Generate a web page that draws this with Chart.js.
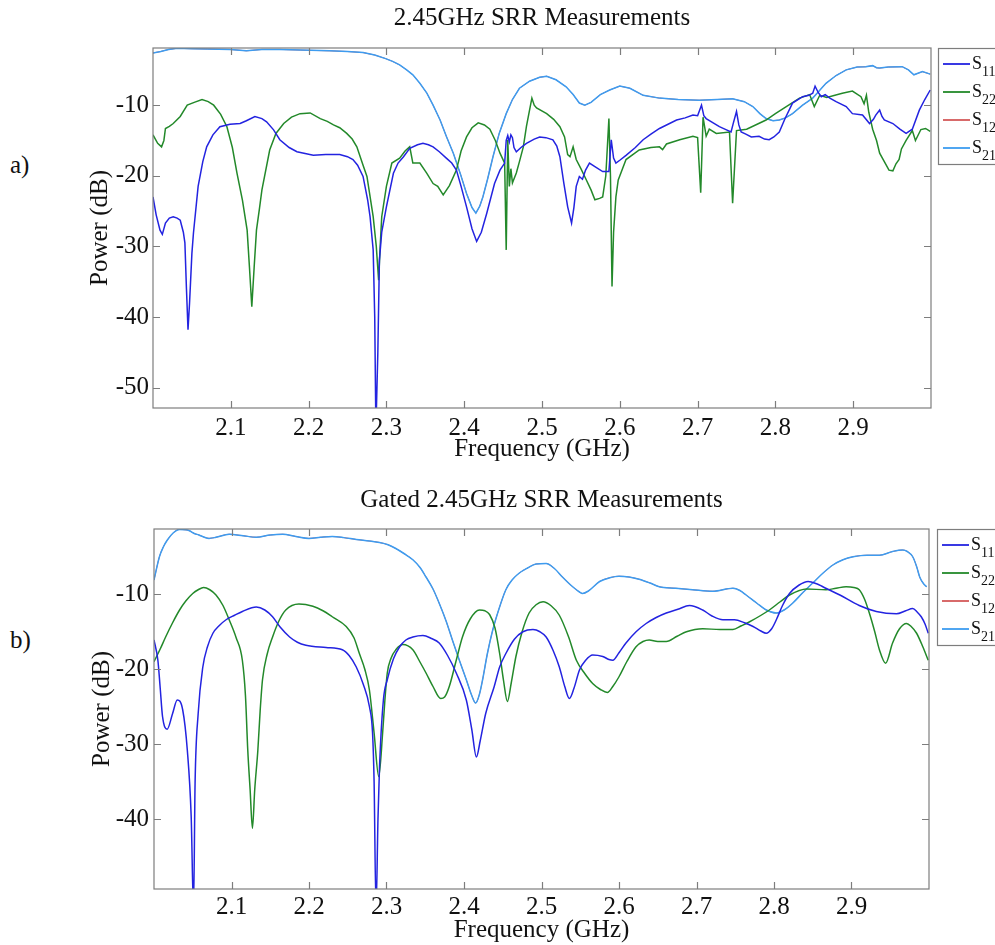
<!DOCTYPE html>
<html>
<head>
<meta charset="utf-8">
<title>2.45GHz SRR Measurements</title>
<script src="https://cdn.jsdelivr.net/npm/chart.js@4.4.1/dist/chart.umd.min.js"></script>
<style>
  html, body { margin: 0; padding: 0; background: #fff; }
  #page { position: relative; width: 995px; height: 945px; overflow: hidden;
          font-family: 'Liberation Serif', 'Times New Roman', serif; }
  .panel { position: absolute; left: 0; width: 995px; }
  .tag { position: absolute; left: 10px; font-size: 25px; line-height: 30px; color: #111; }
</style>
</head>
<body>
<div id="page">
  <div class="tag" style="top:150px">a)</div>
  <div class="panel" style="top:0;height:470px"><canvas id="chartA"></canvas></div>
  <div class="tag" style="top:625px">b)</div>
  <div class="panel" style="top:470px;height:475px"><canvas id="chartB"></canvas></div>
</div>
<script>
const FONT = "'Liberation Serif', 'Times New Roman', serif";

const xTicks = [2.1, 2.2, 2.3, 2.4, 2.5, 2.6, 2.7, 2.8, 2.9];
const yTicksA = [-50, -40, -30, -20, -10];
const yTicksB = [-40, -30, -20, -10];
const seriesLabels = ['S11', 'S22', 'S12', 'S21'];
const seriesColors = ['#2323e0', '#23892a', '#d45a5a', '#3d9cf0'];

// ---- a) raw measurement ----
const freqA11 = [2.000,2.004,2.009,2.012,2.016,2.021,2.026,2.031,2.035,2.039,2.041,2.043,2.045,2.047,2.050,2.052,2.058,2.064,2.069,2.077,2.086,2.099,2.112,2.120,2.131,2.140,2.146,2.155,2.163,2.175,2.185,2.206,2.222,2.240,2.250,2.257,2.263,2.270,2.276,2.279,2.283,2.285,2.2865,2.289,2.291,2.294,2.300,2.309,2.315,2.322,2.330,2.340,2.347,2.354,2.360,2.368,2.377,2.384,2.390,2.396,2.403,2.410,2.416,2.422,2.429,2.439,2.446,2.452,2.454,2.456,2.458,2.460,2.462,2.464,2.467,2.473,2.480,2.490,2.497,2.505,2.514,2.519,2.523,2.528,2.533,2.538,2.541,2.544,2.548,2.552,2.556,2.561,2.568,2.578,2.586,2.589,2.592,2.595,2.600,2.608,2.620,2.630,2.640,2.651,2.662,2.673,2.684,2.694,2.700,2.705,2.708,2.711,2.720,2.728,2.735,2.743,2.746,2.750,2.753,2.756,2.762,2.769,2.779,2.786,2.792,2.798,2.805,2.812,2.822,2.835,2.843,2.848,2.851,2.855,2.859,2.864,2.870,2.878,2.891,2.899,2.912,2.921,2.926,2.929,2.934,2.937,2.940,2.951,2.960,2.968,2.976,2.985,2.992,2.999];
const dbA11 = [-23.0,-25.5,-27.7,-28.3,-26.7,-26.0,-25.8,-26.0,-26.3,-28.0,-29.5,-36,-41.8,-38,-31,-28.1,-21.5,-18,-15.9,-14.2,-13.05,-12.7,-12.6,-12.2,-11.6,-11.9,-12.35,-13.5,-14.9,-16.0,-16.6,-17.1,-17.0,-17.0,-17.3,-17.7,-18.5,-20.1,-23.5,-25.8,-30.5,-40,-56,-45,-32,-28,-24.4,-19.65,-18.2,-17.3,-16.1,-15.6,-15.4,-15.6,-15.9,-16.6,-17.5,-18.2,-19.2,-21.5,-24.4,-27.5,-29.3,-28,-25.3,-21.1,-19.2,-18.2,-15.0,-14.3,-15.2,-14.2,-14.6,-16.0,-16.6,-16.0,-15.4,-14.8,-14.5,-14.6,-14.9,-15.8,-17.3,-21,-24.4,-26.7,-24.5,-21.5,-20.1,-20.5,-19.2,-18.2,-18.7,-19.4,-19.4,-14.9,-17.5,-18.2,-17.8,-17.1,-16.0,-14.9,-14.1,-13.3,-12.7,-12.1,-11.8,-11.4,-11.5,-10.0,-11.5,-11.9,-12.5,-13.05,-13.4,-13.8,-12.5,-10.9,-12.8,-13.8,-14.1,-14.5,-14.4,-14.8,-14.9,-14.5,-13.8,-12.0,-9.7,-8.8,-8.6,-8.3,-7.3,-8.2,-8.8,-8.5,-9.0,-9.5,-10.2,-11.2,-11.4,-12.6,-12.0,-11.4,-10.7,-11.6,-12.1,-12.6,-13.4,-14.0,-13.4,-10.7,-9.2,-7.85];

const freqA22 = [2.000,2.006,2.011,2.014,2.016,2.021,2.026,2.035,2.044,2.053,2.063,2.071,2.078,2.087,2.095,2.102,2.108,2.115,2.121,2.124,2.127,2.130,2.133,2.137,2.140,2.150,2.158,2.168,2.178,2.189,2.202,2.215,2.224,2.232,2.240,2.249,2.256,2.262,2.270,2.275,2.283,2.287,2.290,2.292,2.294,2.300,2.307,2.317,2.324,2.330,2.334,2.343,2.352,2.360,2.366,2.373,2.381,2.390,2.396,2.403,2.410,2.418,2.426,2.433,2.440,2.446,2.452,2.454,2.456,2.458,2.460,2.462,2.467,2.471,2.476,2.480,2.484,2.487,2.490,2.493,2.506,2.515,2.523,2.529,2.533,2.536,2.540,2.544,2.550,2.557,2.563,2.568,2.574,2.578,2.582,2.586,2.588,2.590,2.592,2.595,2.598,2.608,2.625,2.640,2.651,2.655,2.660,2.677,2.694,2.700,2.704,2.707,2.711,2.715,2.724,2.741,2.745,2.750,2.763,2.788,2.800,2.814,2.831,2.844,2.850,2.857,2.866,2.886,2.899,2.910,2.914,2.917,2.920,2.925,2.930,2.934,2.940,2.946,2.951,2.955,2.959,2.962,2.968,2.976,2.980,2.987,2.993,2.999];
const dbA22 = [-14.2,-15.4,-15.9,-15.0,-13.3,-13.0,-12.6,-11.6,-10.0,-9.6,-9.2,-9.5,-10.0,-11.3,-13.05,-16.0,-19.65,-23.5,-27.7,-33,-38.55,-33,-27.7,-24.5,-22.0,-16.35,-14.0,-12.6,-11.7,-11.2,-11.1,-11.9,-12.3,-12.8,-13.2,-14.0,-14.8,-15.9,-18.5,-20.1,-25.8,-30,-34.8,-30,-25.8,-21.5,-18.2,-17.5,-16.5,-15.9,-18.2,-18.2,-19.65,-21.1,-21.5,-22.7,-21.4,-19.2,-16.5,-14.5,-13.2,-12.5,-12.8,-13.4,-15.0,-16.8,-18.2,-30.5,-14.9,-21.5,-19.0,-21.0,-19.6,-18.0,-15.9,-13.0,-10.7,-9.0,-10.0,-10.4,-11.2,-12.0,-13.05,-14.5,-17.0,-17.3,-15.9,-17.7,-19.0,-20.6,-22.0,-23.4,-23.2,-23.0,-20,-11.9,-20,-35.7,-28,-23,-20.6,-17.7,-16.35,-16.0,-15.9,-16.3,-15.5,-14.9,-14.4,-14.6,-22.4,-11.7,-14.4,-13.4,-14.0,-13.8,-23.9,-13.6,-13.4,-12.1,-11.2,-10.2,-9.0,-8.5,-10.2,-8.6,-8.9,-8.3,-8.0,-8.8,-9.8,-8.6,-11.0,-13.4,-15.0,-16.8,-18.0,-19.2,-19.3,-18.3,-17.7,-16.2,-15.0,-13.6,-15.0,-13.45,-13.3,-13.7];

const freqA21 = [2.000,2.010,2.020,2.031,2.050,2.070,2.099,2.120,2.140,2.163,2.190,2.227,2.250,2.270,2.285,2.299,2.308,2.317,2.326,2.334,2.343,2.352,2.360,2.369,2.377,2.386,2.395,2.403,2.410,2.415,2.420,2.424,2.430,2.437,2.445,2.454,2.462,2.471,2.484,2.497,2.506,2.518,2.531,2.540,2.548,2.555,2.563,2.575,2.587,2.600,2.613,2.630,2.651,2.675,2.702,2.725,2.745,2.760,2.771,2.780,2.788,2.797,2.805,2.813,2.822,2.835,2.848,2.857,2.865,2.878,2.891,2.905,2.916,2.925,2.930,2.934,2.945,2.963,2.971,2.978,2.989,2.999];
const dbA21 = [-2.6,-2.4,-2.1,-1.95,-2.0,-2.05,-2.1,-2.3,-2.1,-2.1,-2.2,-2.3,-2.4,-2.55,-2.9,-3.4,-3.8,-4.3,-5.0,-5.7,-6.9,-8.3,-10.0,-12.1,-14.4,-16.8,-19.7,-22.5,-24.5,-25.3,-24.3,-23.0,-20.5,-17.3,-14.0,-11.2,-9.2,-7.6,-6.6,-6.05,-5.9,-6.4,-7.4,-8.5,-9.7,-10.0,-9.6,-8.5,-7.85,-7.3,-7.6,-8.6,-9.0,-9.2,-9.3,-9.2,-9.1,-9.5,-10.2,-11.2,-11.9,-12.2,-12.1,-11.8,-11.2,-10.0,-9.0,-7.9,-6.9,-5.8,-5.0,-4.6,-4.55,-4.4,-4.7,-4.75,-4.6,-4.55,-5.0,-5.7,-5.25,-5.6];

// ---- b) time-gated ----
const freqB11 = [2.000,2.005,2.008,2.011,2.017,2.024,2.030,2.037,2.043,2.048,2.051,2.053,2.057,2.063,2.069,2.076,2.084,2.093,2.104,2.114,2.132,2.143,2.153,2.163,2.175,2.185,2.196,2.222,2.243,2.252,2.261,2.270,2.278,2.282,2.284,2.2865,2.289,2.291,2.296,2.301,2.309,2.317,2.325,2.334,2.347,2.358,2.368,2.379,2.390,2.403,2.410,2.416,2.421,2.428,2.439,2.446,2.454,2.465,2.476,2.489,2.498,2.506,2.515,2.523,2.530,2.536,2.542,2.549,2.557,2.566,2.579,2.587,2.592,2.600,2.609,2.622,2.635,2.648,2.661,2.676,2.691,2.708,2.720,2.734,2.749,2.762,2.773,2.783,2.790,2.797,2.803,2.811,2.820,2.832,2.844,2.855,2.863,2.885,2.910,2.932,2.958,2.970,2.979,2.985,2.990,2.995,2.999];
const dbB11 = [-16.1,-18.8,-22.5,-26.3,-28.0,-25.9,-24.1,-25.4,-30.8,-39.7,-52,-35.2,-25.9,-19.7,-17.0,-15.2,-14.2,-13.4,-12.8,-12.3,-11.7,-12.1,-13.0,-14.4,-15.7,-16.4,-16.8,-17.1,-17.4,-18.2,-19.7,-22.0,-25.0,-28.5,-35,-52,-40,-33,-24.1,-21.4,-18.6,-17.0,-16.1,-15.7,-15.5,-15.9,-16.5,-18.2,-20.5,-24.1,-28,-31.7,-29.5,-25.9,-22.3,-19.7,-17.9,-16.0,-15.0,-14.7,-15.0,-15.7,-17.5,-19.7,-22.3,-23.9,-22.5,-20.1,-18.8,-18.1,-18.3,-18.7,-18.8,-17.8,-16.5,-15.0,-13.9,-13.1,-12.5,-12.0,-11.5,-12.1,-12.9,-13.4,-13.4,-13.8,-14.3,-14.9,-15.2,-14.6,-13.4,-11.5,-9.9,-8.8,-8.3,-8.6,-9.0,-10.1,-11.5,-12.3,-12.6,-12.2,-11.9,-12.4,-13.0,-14.0,-15.2];

const freqB22 = [2.000,2.008,2.015,2.024,2.033,2.041,2.050,2.057,2.064,2.072,2.080,2.089,2.097,2.106,2.114,2.118,2.121,2.124,2.127,2.130,2.134,2.137,2.140,2.146,2.153,2.161,2.170,2.187,2.205,2.218,2.230,2.248,2.258,2.265,2.272,2.278,2.284,2.290,2.295,2.298,2.301,2.306,2.312,2.321,2.334,2.343,2.351,2.360,2.370,2.375,2.381,2.390,2.398,2.408,2.420,2.427,2.433,2.440,2.446,2.451,2.456,2.461,2.467,2.475,2.484,2.493,2.502,2.512,2.523,2.535,2.545,2.556,2.566,2.576,2.585,2.592,2.600,2.610,2.622,2.631,2.639,2.650,2.661,2.675,2.687,2.708,2.730,2.747,2.758,2.768,2.794,2.808,2.820,2.842,2.867,2.880,2.893,2.903,2.910,2.917,2.923,2.930,2.936,2.944,2.953,2.962,2.971,2.977,2.984,2.992,2.999];
const dbB22 = [-19.0,-17.3,-15.7,-13.8,-12.1,-10.9,-9.9,-9.4,-9.1,-9.4,-10.1,-11.5,-13.4,-15.8,-18.8,-23.5,-30.8,-36,-41.2,-36,-30.8,-25.5,-21.4,-18.0,-15.7,-13.6,-12.1,-11.3,-11.6,-12.2,-13.0,-14.3,-15.8,-17.9,-20.0,-22.8,-28.5,-34.3,-28.5,-24.0,-20.5,-18.5,-17.4,-16.7,-17.4,-19.0,-20.5,-22.3,-23.9,-23.7,-22.3,-18.8,-15.7,-13.3,-12.1,-12.2,-12.7,-14.5,-17.9,-21.5,-24.3,-21.8,-18.3,-15.0,-12.5,-11.4,-11.0,-11.5,-12.8,-15.7,-18.8,-20.6,-21.9,-22.7,-23.1,-22.3,-21.0,-19.0,-17.0,-16.3,-16.1,-16.3,-16.3,-15.6,-15.0,-14.6,-14.7,-14.7,-14.2,-13.7,-12.1,-11.0,-10.1,-9.3,-9.4,-9.2,-9.0,-9.1,-9.4,-10.7,-12.5,-15.0,-17.4,-19.2,-16.5,-14.6,-13.9,-14.3,-15.2,-17.0,-18.8];

const freqB21 = [2.000,2.007,2.012,2.017,2.025,2.033,2.040,2.045,2.052,2.058,2.065,2.071,2.080,2.097,2.115,2.132,2.150,2.166,2.183,2.200,2.215,2.230,2.245,2.261,2.278,2.291,2.302,2.312,2.323,2.334,2.343,2.351,2.360,2.368,2.377,2.385,2.394,2.403,2.410,2.415,2.420,2.424,2.430,2.437,2.445,2.454,2.462,2.471,2.482,2.493,2.506,2.517,2.527,2.538,2.549,2.553,2.560,2.575,2.588,2.600,2.613,2.626,2.640,2.652,2.673,2.695,2.721,2.747,2.756,2.764,2.778,2.790,2.803,2.813,2.824,2.837,2.850,2.863,2.876,2.889,2.902,2.920,2.936,2.953,2.966,2.972,2.979,2.984,2.988,2.993,2.997];
const dbB21 = [-8.1,-5.0,-3.7,-2.8,-1.8,-1.35,-1.4,-1.5,-1.9,-2.1,-2.4,-2.55,-2.4,-2.0,-2.2,-2.4,-2.1,-2.0,-2.3,-2.55,-2.4,-2.3,-2.45,-2.7,-2.9,-3.1,-3.4,-3.9,-4.6,-5.4,-6.4,-7.7,-9.3,-11.2,-13.6,-16.1,-18.8,-21.4,-23.5,-24.5,-23.3,-21.4,-18.0,-14.8,-12.0,-9.4,-8.1,-7.2,-6.5,-5.97,-5.9,-6.6,-7.7,-8.8,-9.7,-9.9,-9.6,-8.3,-7.8,-7.6,-7.7,-8.0,-8.5,-9.0,-9.2,-9.4,-9.6,-9.2,-9.5,-10.1,-11.2,-12.1,-12.5,-12.1,-11.2,-9.8,-8.5,-7.2,-6.1,-5.4,-5.0,-4.8,-4.8,-4.3,-4.1,-4.3,-5.0,-6.3,-7.7,-8.6,-9.0];

function pts(freq, db) {
  return freq.map((f, i) => ({ x: f, y: db[i] }));
}

// box round the plot with inward ticks on all four sides
const boxTicks = {
  id: 'boxTicks',
  afterDatasetsDraw(chart) {
    const { ctx, chartArea: a, scales: { x, y } } = chart;
    const len = 7;
    ctx.save();
    ctx.strokeStyle = '#7d7d7d';
    ctx.lineWidth = 1.2;
    ctx.strokeRect(a.left, a.top, a.right - a.left, a.bottom - a.top);
    ctx.beginPath();
    x.ticks.forEach(t => {
      const px = Math.round(x.getPixelForValue(t.value)) + 0.5;
      ctx.moveTo(px, a.bottom); ctx.lineTo(px, a.bottom - len);
      ctx.moveTo(px, a.top); ctx.lineTo(px, a.top + len);
    });
    y.ticks.forEach(t => {
      const py = Math.round(y.getPixelForValue(t.value)) + 0.5;
      ctx.moveTo(a.left, py); ctx.lineTo(a.left + len, py);
      ctx.moveTo(a.right, py); ctx.lineTo(a.right - len, py);
    });
    ctx.stroke();
    ctx.restore();
  }
};

// heading centred over the plot area rather than the whole canvas
const plotTitle = {
  id: 'plotTitle',
  afterDraw(chart, args, opts) {
    const { ctx, chartArea: a } = chart;
    ctx.save();
    ctx.fillStyle = '#111';
    ctx.font = `25px ${FONT}`;
    ctx.textAlign = 'center';
    ctx.textBaseline = 'middle';
    ctx.fillText(opts.text, (a.left + a.right) / 2, opts.y);
    ctx.restore();
  }
};

// legend with subscripted port numbers, boxed at the right of the plot
const subLegend = {
  id: 'subLegend',
  afterDraw(chart, args, opts) {
    const { ctx, chartArea: a } = chart;
    const left = a.right + opts.gap;
    const top = a.top;
    ctx.save();
    ctx.fillStyle = '#fff';
    ctx.fillRect(left, top, 120, 116);
    ctx.strokeStyle = '#7d7d7d';
    ctx.lineWidth = 1.2;
    ctx.strokeRect(left + 0.5, top + 0.5, 120, 116);
    chart.data.datasets.forEach((ds, i) => {
      const yy = top + 16 + i * 28;
      ctx.strokeStyle = ds.borderColor;
      ctx.lineWidth = 1.8;
      ctx.beginPath();
      ctx.moveTo(left + 5, yy);
      ctx.lineTo(left + 32, yy);
      ctx.stroke();
      ctx.fillStyle = '#111';
      ctx.textBaseline = 'alphabetic';
      ctx.font = `18px ${FONT}`;
      ctx.fillText(ds.label.charAt(0), left + 34, yy + 5);
      const w = ctx.measureText(ds.label.charAt(0)).width;
      ctx.font = `14px ${FONT}`;
      ctx.fillText(ds.label.slice(1), left + 34 + w, yy + 12);
    });
    ctx.restore();
  }
};

function datasets(series, smooth) {
  return series.map((data, i) => ({
    label: seriesLabels[i],
    data: data,
    borderColor: seriesColors[i],
    backgroundColor: seriesColors[i],
    borderWidth: i === 2 ? 1 : 1.5,
    order: i === 2 ? 1 : 0,
    pointRadius: 0,
    tension: 0,
    cubicInterpolationMode: smooth ? 'monotone' : 'default'
  }));
}

function drawPanel(id, cfg) {
  const font = { family: FONT, size: 25, weight: 'normal' };
  return new Chart(document.getElementById(id), {
    type: 'line',
    data: { datasets: datasets(cfg.series, cfg.smooth) },
    options: {
      responsive: true,
      maintainAspectRatio: false,
      animation: false,
      events: [],
      layout: { padding: { left: 0, right: cfg.padRight, top: cfg.padTop, bottom: 0 } },
      plugins: {
        legend: { display: false },
        tooltip: { enabled: false },
        title: { display: false },
        plotTitle: { text: cfg.title, y: cfg.titleY },
        subLegend: { gap: cfg.legendGap }
      },
      scales: {
        x: {
          type: 'linear',
          min: 2.0,
          max: 3.0,
          grid: { display: false, drawTicks: false },
          border: { display: false },
          afterBuildTicks: s => { s.ticks = xTicks.map(v => ({ value: v })); },
          afterFit: s => { s.height = cfg.xHeight; },
          ticks: {
            color: '#111',
            font: font,
            padding: cfg.xTickPad,
            maxRotation: 0,
            autoSkip: false,
            callback: v => v.toFixed(1)
          },
          title: {
            display: true,
            text: 'Frequency (GHz)',
            color: '#111',
            font: font,
            padding: { top: 0, bottom: cfg.xTitlePad }
          }
        },
        y: {
          type: 'linear',
          min: cfg.yMin,
          max: cfg.yMax,
          grid: { display: false, drawTicks: false },
          border: { display: false },
          afterBuildTicks: s => { s.ticks = cfg.yTicks.map(v => ({ value: v })); },
          afterFit: s => { s.width = cfg.yWidth; },
          ticks: {
            color: '#111',
            font: font,
            padding: cfg.yTickPad,
            autoSkip: false,
            callback: v => String(v)
          },
          title: {
            display: true,
            text: 'Power (dB)',
            color: '#111',
            font: font,
            padding: { top: cfg.yTitlePad, bottom: 0 }
          }
        }
      }
    },
    plugins: [boxTicks, plotTitle, subLegend]
  });
}

drawPanel('chartA', {
  title: '2.45GHz SRR Measurements',
  series: [pts(freqA11, dbA11), pts(freqA22, dbA22), pts(freqA21, dbA21), pts(freqA21, dbA21)],
  smooth: false,
  yMin: -52.9, yMax: -1.9, yTicks: yTicksA,
  padRight: 64, padTop: 48, yWidth: 153, xHeight: 62,
  titleY: 18,
  xTickPad: 5, xTitlePad: 6, yTickPad: 4, yTitlePad: 85,
  legendGap: 7
});

drawPanel('chartB', {
  title: 'Gated 2.45GHz SRR Measurements',
  series: [pts(freqB11, dbB11), pts(freqB22, dbB22), pts(freqB21, dbB21), pts(freqB21, dbB21)],
  smooth: true,
  yMin: -49.3, yMax: -1.3, yTicks: yTicksB,
  padRight: 66, padTop: 59, yWidth: 154, xHeight: 56,
  titleY: 30,
  xTickPad: 3, xTitlePad: 0, yTickPad: 5, yTitlePad: 87,
  legendGap: 8
});
</script>
</body>
</html>
